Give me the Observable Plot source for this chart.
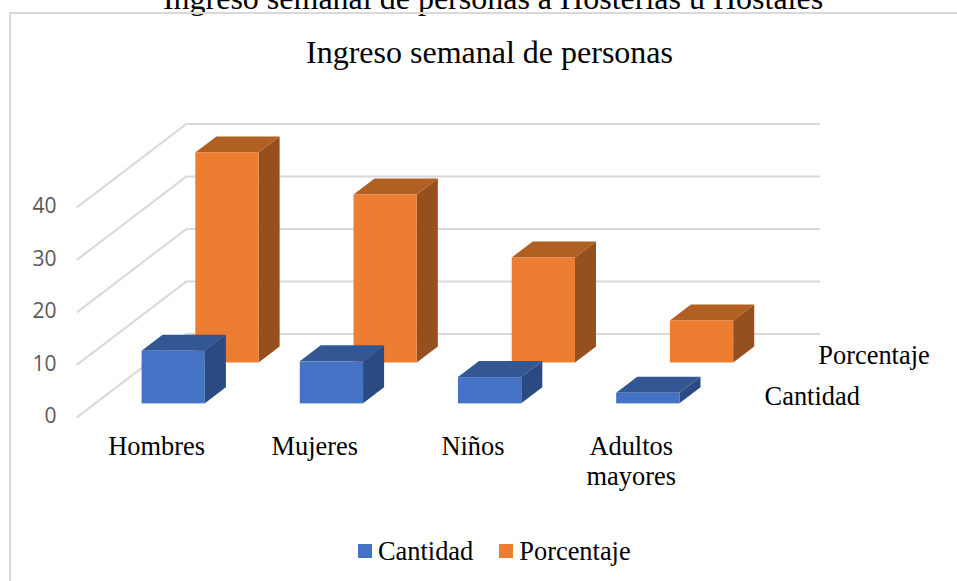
<!DOCTYPE html>
<html lang="es">
<head>
<meta charset="utf-8">
<script src="https://cdn.jsdelivr.net/npm/d3@7"></script>
<script src="https://cdn.jsdelivr.net/npm/@observablehq/plot@0.6"></script>
<style>
  html, body { margin: 0; padding: 0; background: #fff; width: 957px; height: 581px; overflow: hidden; }
  body { position: relative; font-family: "Liberation Serif", serif; color: #000; }
  .frame { position: absolute; left: 9px; top: 12px; width: 960px; height: 600px; border-left: 2px solid #d9d9d9; border-top: 2px solid #d9d9d9; }
  .doc-title, .chart-title { position: absolute; left: 0; width: 100%; text-align: center; font-size: 32px; line-height: 36px; white-space: nowrap; }
  .doc-title { top: -20px; left: 14.5px; }
  .chart-title { top: 34px; left: 11px; margin: 0; font-weight: normal; }
  #chart { position: absolute; left: 0; top: 0; }
  .legend { position: absolute; top: 534px; left: 358px; display: flex; align-items: center; font-size: 26.4px; line-height: 34px; white-space: nowrap; }
  .legend i { display: inline-block; width: 14px; height: 14px; margin-right: 6px; }
  .legend span + i { margin-left: 26px; }
</style>
</head>
<body>
<div class="doc-title">Ingreso semanal de personas a Hosterías u Hostales</div>
<div class="frame"></div>
<h1 class="chart-title">Ingreso semanal de personas</h1>
<div id="chart"></div>
<div class="legend" id="legend"></div>
<script>
const categories = ["Hombres", "Mujeres", "Niños", "Adultos\nmayores"];
const cantidad = [10, 8, 5, 2];
const porcentaje = [40, 32, 20, 8];
const valueTicks = [0, 10, 20, 30, 40];
const seriesNames = ["Cantidad", "Porcentaje"];

// Oblique projection of the depth axis, in data units of x and y.
const depthX = 0.689, depthY = 15.81;
const barStart = 0.3, barWidth = 0.4, barDepth = 0.193;
const seriesDepth = [0.157, 0.65];
const serif = "Liberation Serif";
const textSize = 26.4;

const faces = {
  Cantidad: { front: "#4472c4", top: "#335694", side: "#2a4a81" },
  Porcentaje: { front: "#ed7d31", top: "#b25f23", side: "#964f1e" }
};

const gridlines = valueTicks.flatMap(v => [
  { v, x: 0, y: v },
  { v, x: depthX, y: v + depthY },
  { v, x: categories.length + depthX, y: v + depthY }
]);

function bars(values, s) {
  const d0 = seriesDepth[s], d1 = d0 + barDepth;
  return values.map((value, i) => ({
    key: seriesNames[s] + i,
    value,
    left: i + barStart + d0 * depthX,
    right: i + barStart + barWidth + d0 * depthX,
    base: d0 * depthY,
    top: value + d0 * depthY,
    dx: (d1 - d0) * depthX,
    dy: (d1 - d0) * depthY
  }));
}

function sidePoints(rows) {
  return rows.flatMap(b => [
    { key: b.key, x: b.right, y1: b.base, y2: b.top },
    { key: b.key, x: b.right + b.dx, y1: b.base + b.dy, y2: b.top + b.dy }
  ]);
}

function topPoints(rows) {
  return rows.flatMap(b => [
    { key: b.key, y: b.top, x1: b.left, x2: b.right },
    { key: b.key, y: b.top + b.dy, x1: b.left + b.dx, x2: b.right + b.dx }
  ]);
}

function barMarks(rows, colors) {
  return [
    Plot.areaY(sidePoints(rows), { x: "x", y1: "y1", y2: "y2", z: "key", fill: colors.side }),
    Plot.areaX(topPoints(rows), { y: "y", x1: "x1", x2: "x2", z: "key", fill: colors.top }),
    Plot.rect(rows, { x1: "left", x2: "right", y1: "base", y2: "top", fill: colors.front })
  ];
}

const seriesLabels = seriesNames.map((name, s) => ({
  name,
  x: 4.235 + seriesDepth[s] * depthX,
  y: seriesDepth[s] * depthY
}));

const plot = Plot.plot({
  width: 957,
  height: 530,
  marginLeft: 56, marginRight: 0, marginTop: 0, marginBottom: 0,
  style: { background: "transparent", overflow: "visible", fontFamily: "Open Sans" },
  x: { domain: [0, 4], range: [77, 709.8], axis: null },
  y: { domain: [0, 40], range: [416.4, 206.4], axis: null },
  marks: [
    Plot.line(gridlines, { x: "x", y: "y", z: "v", stroke: "#d9d9d9", strokeWidth: 2 }),
    Plot.axisY({
      ticks: valueTicks, anchor: "left", tickSize: 0, tickPadding: 0, label: null, dy: -0.5,
      fontSize: 21, fontFamily: "Open Sans", fill: "#595959", tickFormat: d => String(d)
    }),
    ...barMarks(bars(porcentaje, 1), faces.Porcentaje),
    ...barMarks(bars(cantidad, 0), faces.Cantidad),
    Plot.text(categories, {
      x: (d, i) => i + 0.5, y: () => 0, text: d => d,
      lineAnchor: "top", dy: 17, lineHeight: 1.14,
      fontSize: textSize, fontFamily: serif, fill: "#000"
    }),
    Plot.text(seriesLabels, {
      x: "x", y: "y", text: "name", textAnchor: "start", lineAnchor: "bottom", dy: 1,
      fontSize: textSize, fontFamily: serif, fill: "#000"
    })
  ]
});
document.getElementById("chart").append(plot);

const legend = document.getElementById("legend");
seriesNames.forEach(name => {
  const swatch = document.createElement("i");
  swatch.style.background = faces[name].front;
  const label = document.createElement("span");
  label.textContent = name;
  legend.append(swatch, label);
});
</script>
</body>
</html>
